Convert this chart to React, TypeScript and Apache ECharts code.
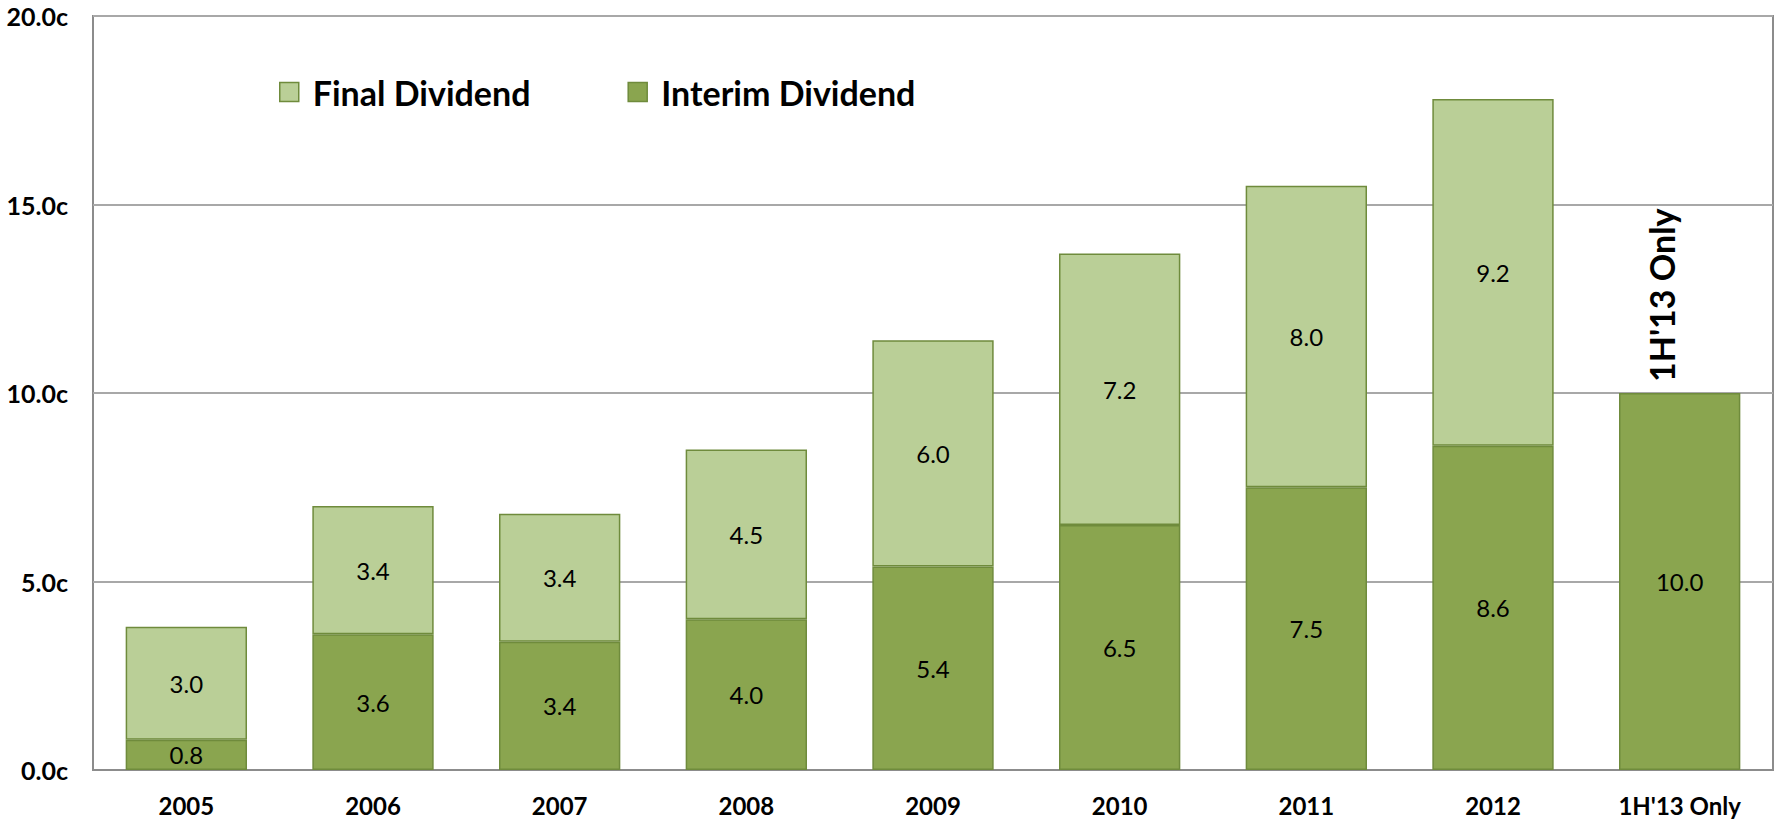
import React, { useEffect, useRef } from "react";
import * as echarts from "echarts";

const categories = ["2005", "2006", "2007", "2008", "2009", "2010", "2011", "2012", "1H'13 Only"];
const interimDividend = [0.8, 3.6, 3.4, 4.0, 5.4, 6.5, 7.5, 8.6, 10.0];
const finalDividend: (number | null)[] = [3.0, 3.4, 3.4, 4.5, 6.0, 7.2, 8.0, 9.2, 0];
const yTicks = { min: 0, max: 20, interval: 5 };
const annotationText = "1H'13 Only";

const FONT = "Lato";

export default function App() {
  const ref = useRef<HTMLDivElement>(null);
  useEffect(() => {
    if (!ref.current) return;
    const chart = echarts.init(ref.current, null, { renderer: "svg" });
    const lastIdx = categories.length - 1;
    const finalData = finalDividend.map((v, i) =>
      i === lastIdx
        ? {
            value: v,
            itemStyle: { color: "transparent", borderWidth: 0 },
            label: {
              show: true,
              position: "top",
              rotate: 90,
              align: "left",
              verticalAlign: "middle",
              distance: 11,
              offset: [0, -18],
              formatter: annotationText,
              fontFamily: FONT,
              fontWeight: "bold",
              fontSize: 34,
              color: "#000",
            },
          }
        : v
    );
    chart.setOption({
      animation: false,
      backgroundColor: "#fff",
      grid: {
        left: 93,
        top: 16,
        right: 4,
        bottom: 49,
        show: true,
        borderColor: "#8c8c8c",
        borderWidth: 2,
      },
      legend: {
        data: ["Final Dividend", "Interim Dividend"],
        left: 274,
        top: 70,
        itemWidth: 19,
        itemHeight: 19,
        itemGap: 97,
        icon: "rect",
        itemStyle: { borderColor: "#6f8b3c", borderWidth: 1.5 },
        textStyle: {
          fontFamily: FONT,
          fontWeight: "bold",
          fontSize: 34,
          color: "#000",
          padding: [0, 0, 0, 9],
        },
      },
      xAxis: {
        type: "category",
        data: categories,
        axisLine: { lineStyle: { color: "#8c8c8c", width: 2 } },
        axisTick: { show: false },
        axisLabel: {
          fontFamily: FONT,
          fontWeight: "bold",
          fontSize: 24,
          color: "#000",
          margin: 23,
          interval: 0,
        },
      },
      yAxis: {
        type: "value",
        min: yTicks.min,
        max: yTicks.max,
        interval: yTicks.interval,
        axisLine: { show: false },
        axisTick: { show: false },
        splitLine: { lineStyle: { color: "#a8a8a8", width: 2 } },
        axisLabel: {
          fontFamily: FONT,
          fontWeight: "bold",
          fontSize: 25,
          color: "#000",
          margin: 25,
          formatter: (v: number) => v.toFixed(1) + "c",
        },
      },
      series: [
        {
          name: "Interim Dividend",
          type: "bar",
          stack: "div",
          data: interimDividend,
          barCategoryGap: "35%",
          itemStyle: { color: "#8aa54f", borderColor: "#6f8b3c", borderWidth: 1.5 },
          label: {
            show: true,
            position: "inside",
            fontFamily: FONT,
            fontSize: 24,
            color: "#000",
            formatter: (p: any) => Number(p.value).toFixed(1),
          },
        },
        {
          name: "Final Dividend",
          type: "bar",
          stack: "div",
          data: finalData,
          barCategoryGap: "35%",
          itemStyle: { color: "#bacf97", borderColor: "#6f8b3c", borderWidth: 1.5 },
          label: {
            show: true,
            position: "inside",
            fontFamily: FONT,
            fontSize: 24,
            color: "#000",
            formatter: (p: any) => Number(p.value).toFixed(1),
          },
        },
      ],
    });
    return () => chart.dispose();
  }, []);
  return (
    <div
      ref={ref}
      style={{ position: "absolute", left: 0, top: 0, width: 1777, height: 819 }}
    />
  );
}
